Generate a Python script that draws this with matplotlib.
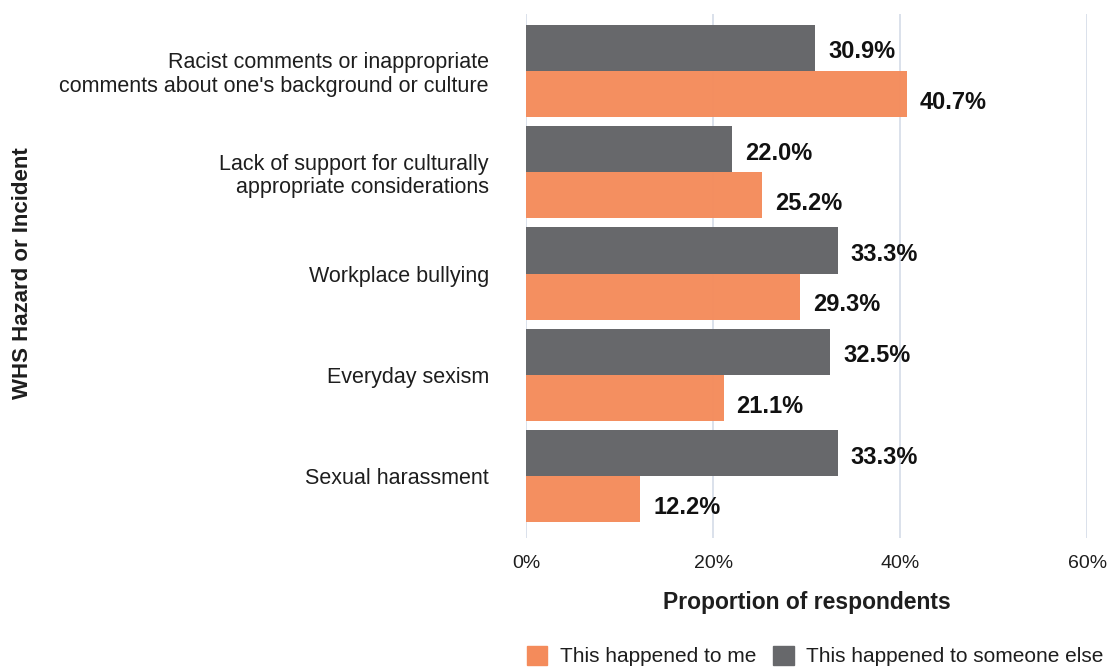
import matplotlib
matplotlib.use("Agg")
import matplotlib.pyplot as plt
import numpy as np
from matplotlib.patches import Patch
from matplotlib import font_manager

categories = [
    "Racist comments or inappropriate\ncomments about one's background or culture",
    "Lack of support for culturally\nappropriate considerations",
    "Workplace bullying",
    "Everyday sexism",
    "Sexual harassment",
]
someone_else = [30.9, 22.0, 33.3, 32.5, 33.3]
to_me = [40.7, 25.2, 29.3, 21.1, 12.2]
xticks = [0, 20, 40, 60]
xtick_labels = ["0%", "20%", "40%", "60%"]

names = {f.name for f in font_manager.fontManager.ttflist}
narrow = "Liberation Sans Narrow" if "Liberation Sans Narrow" in names else "Liberation Sans"
plt.rcParams["font.family"] = ["Liberation Sans", "DejaVu Sans"]

ORANGE = "#F48B5B"
GRAY = "#67686B"
TXT = "#1E1E1E"

fig = plt.figure(figsize=(11.15, 6.71), dpi=100)
ax = fig.add_axes([0.472, 0.198, 0.503, 0.781])

y = np.arange(len(categories))
h = 0.455
ax.barh(y - h / 2, someone_else, height=h, color=GRAY, zorder=2)
ax.barh(y + h / 2, to_me, height=h, color=ORANGE, zorder=2, alpha=0.97)

for yi, v in zip(y, someone_else):
    ax.text(v + 1.4, yi - h / 2 + 0.04, f"{v:.1f}%", va="center", ha="left",
            fontsize=17, fontweight="bold", family=[narrow, "DejaVu Sans"], color="#111111")
for yi, v in zip(y, to_me):
    ax.text(v + 1.4, yi + h / 2 + 0.08, f"{v:.1f}%", va="center", ha="left",
            fontsize=17, fontweight="bold", family=[narrow, "DejaVu Sans"], color="#111111")

ax.set_xlim(0, 60)
ax.set_ylim(4.61, -0.56)
ax.set_xticks(xticks)
ax.set_xticklabels(xtick_labels, fontsize=14)
ax.set_yticks(y)
ax.set_yticklabels(categories, fontsize=15.5, linespacing=1.15)
ax.tick_params(axis="both", length=0, colors=TXT)
ax.tick_params(axis="y", pad=27)
ax.tick_params(axis="x", pad=12)
ax.grid(axis="x", color="#D8DEE9", linewidth=1.3, zorder=0)
ax.set_axisbelow(True)
for s in ax.spines.values():
    s.set_visible(False)

ax.set_xlabel("Proportion of respondents", fontsize=16.5, fontweight="bold",
              labelpad=14, color=TXT)
fig.text(0.02, 0.593, "WHS Hazard or Incident", rotation=90, fontsize=16,
         fontweight="bold", va="center", ha="center", color=TXT)

handles = [Patch(color=ORANGE, label="This happened to me"),
           Patch(color=GRAY, label="This happened to someone else")]
leg = fig.legend(handles=handles, loc="center", bbox_to_anchor=(0.731, 0.022), ncol=2,
                 frameon=False, fontsize=15, handlelength=1.0, handleheight=1.0,
                 handletextpad=0.6, columnspacing=0.8)
for t in leg.get_texts():
    t.set_color(TXT)

fig.savefig("out.png", dpi=100)
